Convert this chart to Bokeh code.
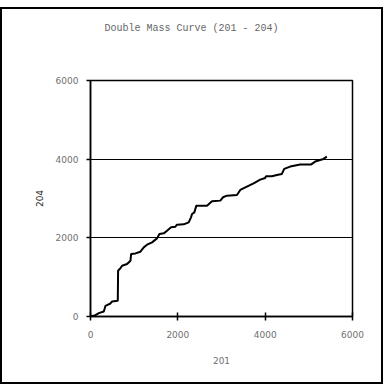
from bokeh.plotting import figure
from bokeh.models import Range1d, FixedTicker, Title
from bokeh.embed import file_html
from bokeh.resources import INLINE

# cumulative 201 vs cumulative 204
x201 = [0, 114, 190, 305, 343, 457, 495, 625, 632, 686, 724, 838, 915, 930, 1029, 1143,
        1220, 1296, 1410, 1524, 1578, 1677, 1753, 1845, 1944, 1982, 2134, 2248, 2302,
        2325, 2378, 2424, 2668, 2782, 2973, 3034, 3125, 3354, 3430, 3582, 3735, 3887,
        4001, 4017, 4154, 4268, 4383, 4436, 4573, 4802, 5046, 5145, 5335, 5412]
y204 = [0, 34, 85, 127, 272, 331, 382, 399, 1163, 1231, 1290, 1333, 1417, 1587, 1604,
        1647, 1757, 1825, 1885, 1986, 2097, 2114, 2182, 2267, 2284, 2334, 2343, 2394,
        2521, 2606, 2648, 2818, 2818, 2929, 2946, 3031, 3073, 3090, 3217, 3302, 3387,
        3480, 3523, 3565, 3565, 3599, 3625, 3752, 3812, 3863, 3863, 3939, 4006, 4066]
x_ticks = [0, 2000, 4000, 6000]
y_ticks = [0, 2000, 4000, 6000]
title_text = "Double Mass Curve (201 - 204)"
x_label = "201"
y_label = "204"

p = figure(width=383, height=377, output_backend="svg", toolbar_location=None,
           x_range=Range1d(0, 6000), y_range=Range1d(0, 6000),
           min_border_left=88, min_border_right=33, min_border_top=71, min_border_bottom=70,
           styles={"border": "2px solid black", "margin-top": "7px"})
p.background_fill_color = "white"
p.border_fill_color = "white"
p.outline_line_color = "black"
p.outline_line_width = 1.5

p.line(x201, y204, line_color="black", line_width=2)

p.xgrid.visible = False
p.ygrid.ticker = FixedTicker(ticks=[2000, 4000])
p.ygrid.grid_line_color = "black"
p.ygrid.grid_line_width = 1

for ax, ticks in ((p.xaxis, x_ticks), (p.yaxis, y_ticks)):
    ax.ticker = FixedTicker(ticks=ticks)
    ax.axis_line_color = "black"
    ax.axis_line_width = 1.5
    ax.major_tick_line_color = "black"
    ax.major_tick_line_width = 1.5
    ax.minor_tick_line_color = None
    ax.major_label_text_font = "DejaVu Sans"
    ax.major_label_text_font_size = "9px"
    ax.major_label_text_color = "#707070"
    ax.axis_label_text_font = "DejaVu Sans"
    ax.axis_label_text_font_size = "9px"
    ax.axis_label_text_font_style = "normal"

p.xaxis.major_tick_in = 4
p.xaxis.major_tick_out = 4
p.xaxis.major_label_standoff = 10
p.xaxis.axis_label = x_label
p.xaxis.axis_label_text_color = "#707070"
p.xaxis.axis_label_standoff = 16

p.yaxis.major_tick_in = 0
p.yaxis.major_tick_out = 4
p.yaxis.major_label_standoff = 8
p.yaxis.axis_label = y_label
p.yaxis.axis_label_text_color = "#222222"
p.yaxis.axis_label_standoff = 10

# spacer panel between the frame and the title
spacer = Title(text=" ", text_font="Liberation Mono", text_font_size="10px",
               text_color="white", standoff=20)
p.add_layout(spacer, "above")

t = Title(text=title_text, align="left", offset=14, text_font="Liberation Mono",
          text_font_size="10px", text_font_style="normal", text_color="#666666",
          standoff=24, vertical_align="top")
p.add_layout(t, "above")

open("out.html", "w").write(file_html(p, INLINE))
